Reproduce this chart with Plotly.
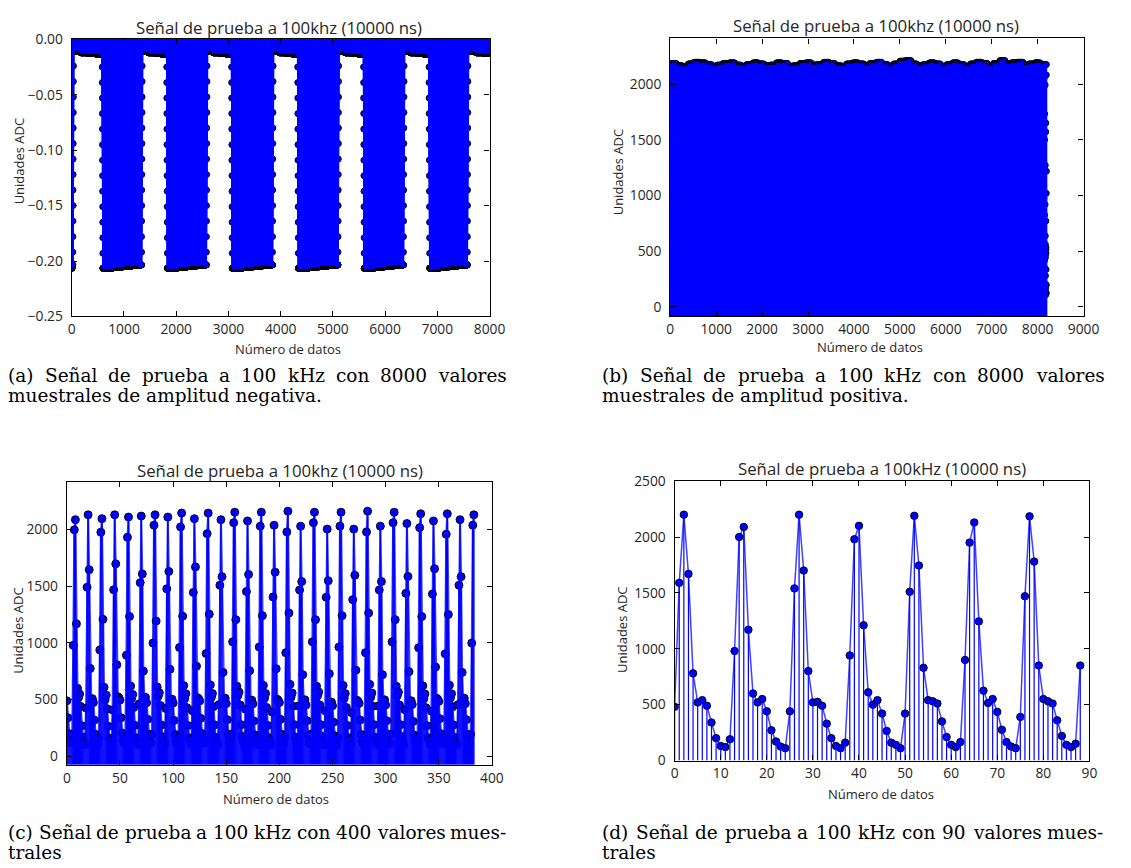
import numpy as np
import plotly.graph_objects as go

W, H = 1131, 868

# ---------------- values ----------------
# panel (d): 89 samples, 100 kHz test signal
d_values = [480, 1590, 2200, 1670, 780, 520, 540, 490, 340, 200, 130, 120, 190,
            980, 2000, 2090, 1170, 600, 520, 550, 440, 270, 170, 125, 110,
            440, 1540, 2200, 1700, 800, 520, 525, 490, 330, 200, 130, 110, 160,
            940, 1980, 2100, 1210, 610, 500, 540, 420, 265, 160, 140, 110,
            420, 1510, 2190, 1745, 830, 540, 530, 510, 350, 210, 140, 120, 165,
            900, 1950, 2130, 1245, 625, 515, 550, 435, 275, 165, 125, 110,
            390, 1470, 2185, 1780, 850, 550, 530, 510, 360, 220, 140, 120, 150, 850]

# panel (c): 384 samples, peak value of each of the 31 pulses
c_peak_values = [2086, 2129, 2095, 2129, 2109, 2118, 2129, 2109, 2144, 2095, 2144,
                 2086, 2152, 2075, 2152, 2037, 2161, 2029, 2152, 2003, 2152, 2003,
                 2161, 2029, 2152, 2052, 2138, 2075, 2138, 2086, 2129]
c_length = 384
c_phase = 7

# panel (b): 8192 samples, envelope of the pulse peaks along the record
b_envelope = [2185, 2165, 2155, 2180, 2195, 2190, 2175, 2160, 2170, 2185, 2190, 2170,
              2160, 2175, 2190, 2180, 2165, 2170, 2190, 2185, 2160, 2165, 2185, 2190,
              2170, 2175, 2195, 2185, 2165, 2160, 2180, 2190, 2180, 2165, 2185, 2195,
              2175, 2160, 2180, 2205, 2210, 2180, 2165, 2175, 2190, 2180, 2160, 2175,
              2190, 2175, 2160, 2180, 2195, 2185, 2165, 2185, 2210, 2180, 2190, 2195,
              2170, 2180, 2190, 2175]
b_length = 8192
b_phase = 0

# panel (a): 8192 samples, negative square signal
a_length = 8192
a_edges = [20, 583, 1336, 1818, 2577, 3060, 3843, 4326, 5098, 5587, 6351, 6841, 7574]
a_fall_ramp = [-0.025, -0.039, -0.053, -0.067, -0.081, -0.095, -0.109, -0.123,
               -0.137, -0.151, -0.165, -0.179, -0.193]
a_rise_ramp = [-0.192, -0.178, -0.164, -0.150, -0.136, -0.122, -0.108, -0.094,
               -0.080, -0.066, -0.052, -0.038, -0.024]
a_low_levels = [-0.2065, -0.2055, -0.2045, -0.2035]
a_high_levels = [-0.0105, -0.0120, -0.0125, -0.0130]

title_khz = "Señal de prueba a 100khz (10000 ns)"
title_kHz = "Señal de prueba a 100kHz (10000 ns)"
xlabel = "Número de datos"
ylabel = "Unidades ADC"
captions = {
    "a": ["(a) Señal de prueba a 100 kHz con 8000 valores", "muestrales de amplitud negativa."],
    "b": ["(b) Señal de prueba a 100 kHz con 8000 valores", "muestrales de amplitud positiva."],
    "c": ["(c) Señal de prueba a 100 kHz con 400 valores mues-", "trales"],
    "d": ["(d) Señal de prueba a 100 kHz con 90 valores mues-", "trales"],
}

# ---------------- build the long records from the read values ----------------
block = d_values[:75]
peak_src = [i for i in range(75)
            if block[i] > 1500 and block[i] >= block[i - 1] and block[i] >= block[(i + 1) % 75]]


def pulse_record(length, phase, peak_of_cycle):
    src = [(n + phase) % 75 for n in range(length)]
    peaks = [n for n in range(length) if src[n] in peak_src]
    out = []
    for n in range(length):
        k = sum(1 for p in peaks if p <= n + 3) - 1
        k = min(max(k, 0), len(peaks) - 1)
        scale = peak_of_cycle(k, peaks[k]) / block[src[peaks[k]]]
        out.append(block[src[n]] * scale)
    return out


c_values = pulse_record(c_length, c_phase,
                        lambda k, p: c_peak_values[min(k, len(c_peak_values) - 1)])
b_values = pulse_record(b_length, b_phase,
                        lambda k, p: b_envelope[min(p * len(b_envelope) // b_length,
                                                    len(b_envelope) - 1)])

a_values = []
state_low = True
pos = 0
for edge in a_edges + [a_length]:
    seg = max(edge - pos, 0)
    levels = a_low_levels if state_low else a_high_levels
    for lev, part in zip(levels, np.array_split(np.arange(seg), len(levels))):
        a_values.extend([lev] * len(part))
    if edge >= a_length:
        break
    ramp = a_rise_ramp if state_low else a_fall_ramp
    a_values.extend(ramp)
    pos = edge + len(ramp)
    state_low = not state_low
a_values = a_values[:a_length]

# ---------------- figure ----------------
BLUE = "#0000ff"


def stems(xs, ys, base):
    sx, sy = [], []
    for xi, yi in zip(xs, ys):
        sx += [xi, xi, None]
        sy += [base, yi, None]
    return sx, sy


panels = [
    # name, values, stem base, x range, y range, stem width, line width, marker size
    ("", a_values, 0.0, [0, 8000], [-0.25, 0.0], 1.5, 1.5, 6),
    ("2", b_values, -85, [0, 9000], [-85, 2410], 1.5, 1.5, 6),
    ("3", c_values, -75, [0, 400], [-75, 2417], 1.5, 2.0, 8),
    ("4", d_values, 0, [0, 90], [0, 2500], 1.2, 1.5, 7.5),
]

fig = go.Figure()
for name, vals, base, xr, yr, sw, lw, ms in panels:
    xs = list(range(len(vals)))
    sx, sy = stems(xs, vals, base)
    # markers (with connecting line) first, stems drawn on top as in matplotlib's stem()
    fig.add_trace(go.Scatter(x=xs, y=vals, mode="lines+markers",
                             line=dict(color="rgba(0,0,255,0.75)", width=lw),
                             marker=dict(color=BLUE, size=ms,
                                         line=dict(color="#000000", width=0.9)),
                             xaxis="x" + name, yaxis="y" + name, showlegend=False))
    fig.add_trace(go.Scatter(x=sx, y=sy, mode="lines", line=dict(color=BLUE, width=sw),
                             xaxis="x" + name, yaxis="y" + name, showlegend=False,
                             hoverinfo="skip"))

# plot areas in pixels (left, right, top, bottom)
boxes = {
    "": (69, 494.3, 30, 313.3),
    "2": (678.3, 1099, 29, 313.3),
    "3": (64, 496.7, 482.7, 771.7),
    "4": (682.7, 1105, 481.7, 767.3),
}
xticks = {"": list(range(0, 8001, 1000)), "2": list(range(0, 9001, 1000)),
          "3": list(range(0, 401, 50)), "4": list(range(0, 91, 10))}
yticks = {"": [0.0, -0.05, -0.10, -0.15, -0.20, -0.25],
          "2": [0, 500, 1000, 1500, 2000],
          "3": [0, 500, 1000, 1500, 2000],
          "4": [0, 500, 1000, 1500, 2000, 2500]}

tickfont = dict(family="Open Sans", size=13.8, color="#262626")
common = dict(showline=True, linecolor="#000000", linewidth=1.3, mirror="ticks",
              ticks="inside", ticklen=5, tickwidth=1, tickcolor="#000000",
              showgrid=False, zeroline=False, tickfont=tickfont)

layout = dict(width=W, height=H, margin=dict(l=0, r=0, t=0, b=0),
              paper_bgcolor="white", plot_bgcolor="white", showlegend=False)
for name, vals, base, xr, yr, sw, lw, ms in panels:
    l, r, t, b = boxes[name]
    yt = yticks[name]
    if name == "":
        ytext = ["0.00" if v == 0 else "\u2212%.2f" % abs(v) for v in yt]
    else:
        ytext = [str(v) for v in yt]
    layout["xaxis" + name] = dict(domain=[l / W, r / W], range=xr, anchor="y" + name,
                                  tickvals=xticks[name], ticktext=[str(v) for v in xticks[name]],
                                  ticklabelstandoff=0, **common)
    layout["yaxis" + name] = dict(domain=[1 - b / H, 1 - t / H], range=yr, anchor="x" + name,
                                  tickvals=yt, ticktext=ytext, ticklabelstandoff=5, **common)

anns = []


def ann(text, x, y, size, xanchor="center", family="Open Sans", angle=0, color="#262626"):
    anns.append(dict(text=text, x=x / W, y=1 - y / H, xref="paper", yref="paper",
                     showarrow=False, xanchor=xanchor, yanchor="middle", textangle=angle,
                     borderpad=0, font=dict(family=family, size=size, color=color)))


# titles
ann(title_khz, 280, 18, 16.8)
ann(title_khz, 888, 16, 16.8)
ann(title_khz, 280.5, 471, 16.8)
ann(title_kHz, 894, 469, 16.8)
# x-axis titles
ann(xlabel, 289, 347, 13)
ann(xlabel, 882, 345, 13)
ann(xlabel, 277, 807, 13)
ann(xlabel, 893, 802, 13)
# y-axis titles
ann(ylabel, 15, 154, 13, angle=-90)
ann(ylabel, 625, 165, 13, angle=-90)
ann(ylabel, 14, 634, 13, angle=-90)
ann(ylabel, 629, 633, 13, angle=-90)

# captions: first line justified across the column, second line left aligned
SERIF_EM = {"(": .390, ")": .390, "a": .596, "b": .640, "c": .560, "d": .640, "e": .592,
            "g": .640, "h": .644, "i": .320, "k": .610, "l": .320, "m": .948, "n": .644,
            "o": .602, "p": .640, "r": .478, "s": .513, "t": .402, "u": .644, "v": .565,
            "z": .525, "S": .685, "H": .872, "ñ": .644, "-": .338, ".": .318}
CAP_SIZE = 18.5


def word_width(wd):
    return sum(SERIF_EM.get(ch, .636) for ch in wd) * CAP_SIZE


cap_pos = {"a": (3, 509, 374), "b": (608, 1117, 374), "c": (3, 509, 841), "d": (608, 1117, 841)}
for key, (x0, x1, cy) in cap_pos.items():
    first, second = captions[key]
    words = first.split(" ")
    widths = [word_width(wd) for wd in words]
    gap = (x1 - x0 - sum(widths)) / (len(words) - 1)
    xw = x0
    for wd, wdt in zip(words, widths):
        ann(wd, xw, cy, CAP_SIZE, xanchor="left", family="DejaVu Serif", color="#000000")
        xw += wdt + gap
    ann(second, x0, cy + 20, CAP_SIZE, xanchor="left", family="DejaVu Serif", color="#000000")

layout["annotations"] = anns
fig.update_layout(**layout)
fig.write_html("out.html")
